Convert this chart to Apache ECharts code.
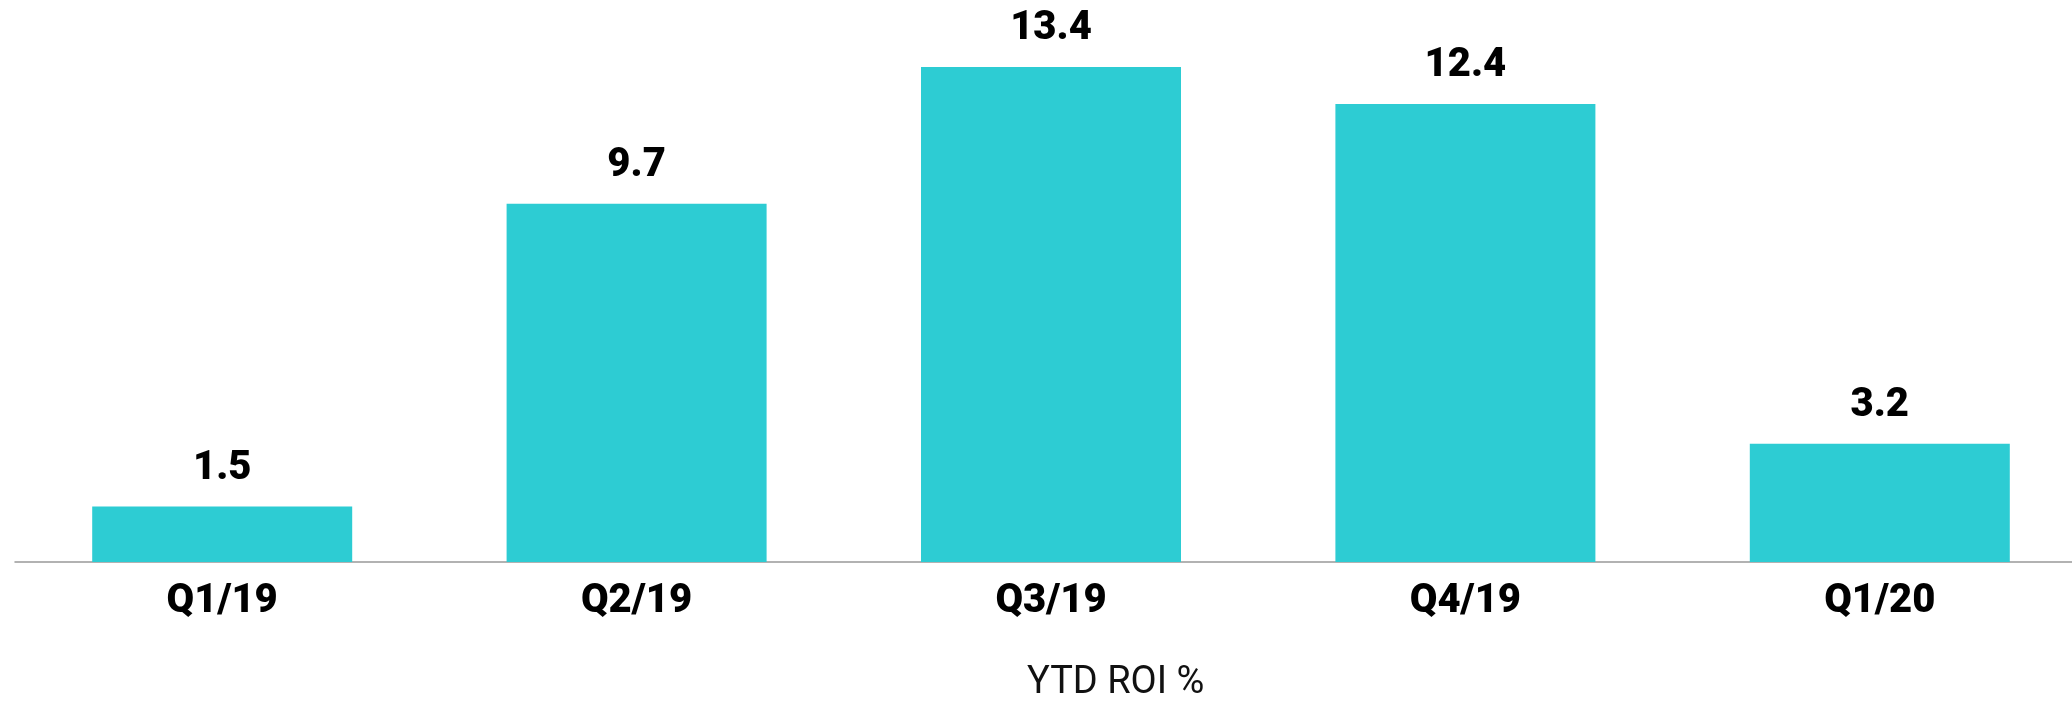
<!DOCTYPE html>
<html>
<head>
<meta charset="utf-8">
<script src="https://cdn.jsdelivr.net/npm/echarts@6/dist/echarts.min.js"></script>
<style>
html,body{margin:0;padding:0;background:#fff;}
#chart{width:2072px;height:701px;}
</style>
</head>
<body>
<div id="chart"></div>
<script>
var categories = ['Q1/19', 'Q2/19', 'Q3/19', 'Q4/19', 'Q1/20'];
var roiValues = [1.5, 9.7, 13.4, 12.4, 3.2];
var axisTitle = 'YTD ROI %';

var chart = echarts.init(document.getElementById('chart'));
chart.setOption({
  backgroundColor: '#ffffff',
  animation: false,
  title: {
    text: axisTitle,
    left: 1022,
    top: 659,
    textStyle: { fontFamily: 'Roboto', fontWeight: 'normal', fontSize: 38, color: '#111' }
  },
  grid: { left: 15, top: 8, width: 2072, height: 554, outerBoundsMode: 'none', containLabel: false },
  xAxis: {
    type: 'category',
    data: categories,
    axisLine: { show: true, lineStyle: { color: '#999', width: 1.5 } },
    axisTick: { show: false },
    axisLabel: {
      margin: 20,
      fontFamily: 'Roboto',
      fontWeight: 900,
      fontSize: 40,
      color: '#000'
    }
  },
  yAxis: {
    type: 'value',
    min: 0,
    max: 15,
    show: false,
    splitLine: { show: false }
  },
  series: [{
    type: 'bar',
    data: roiValues,
    barWidth: 260,
    itemStyle: { color: '#2dccd3' },
    label: {
      show: true,
      position: 'top',
      distance: 18,
      fontFamily: 'Roboto',
      fontWeight: 900,
      fontSize: 40,
      color: '#000'
    }
  }]
});
</script>
</body>
</html>
